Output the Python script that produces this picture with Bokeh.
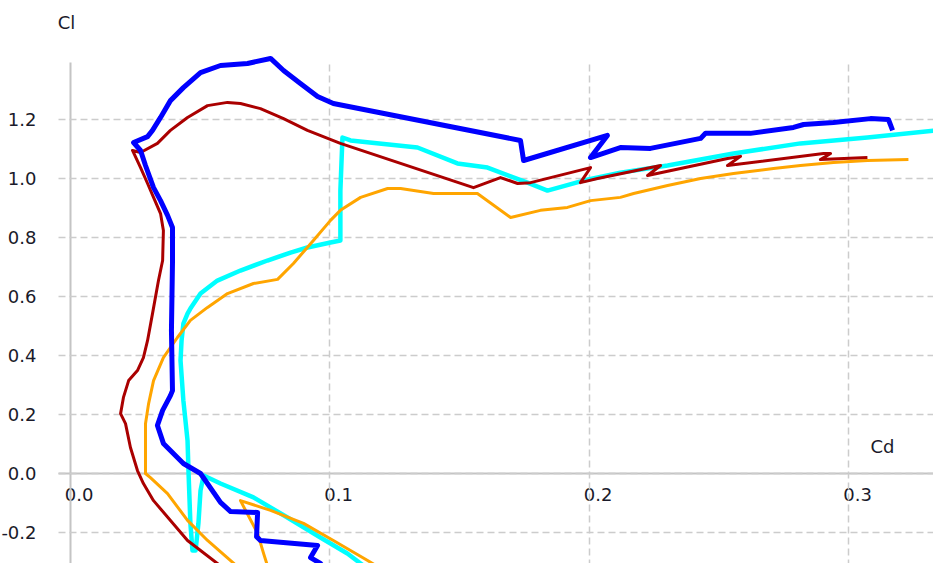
from bokeh.plotting import figure
from bokeh.models import Range1d, LinearAxis, Grid, FixedTicker, PrintfTickFormatter, Label
from bokeh.embed import file_html
from bokeh.resources import INLINE

# ---- data (Cd, Cl) ----
blue_cd = [0.1002, 0.0963, 0.0925, 0.0952, 0.0732, 0.0717, 0.0721, 0.0617, 0.0578, 0.0501,
           0.0435, 0.0358, 0.0335, 0.0355, 0.0385, 0.0393, 0.0389, 0.0393, 0.0393, 0.0374,
           0.0347, 0.0320, 0.0289, 0.0270, 0.0243, 0.0297, 0.0316, 0.0347, 0.0385, 0.0435,
           0.0501, 0.0578, 0.0682, 0.0771, 0.0821, 0.0886, 0.0952, 0.1013, 0.1734, 0.1746,
           0.2069, 0.2004, 0.2119, 0.2235, 0.2428, 0.2447, 0.2493, 0.2620, 0.2786, 0.2825,
           0.2940, 0.3083, 0.3152, 0.3168]
blue_cl = [-0.346, -0.305, -0.285, -0.244, -0.227, -0.214, -0.132, -0.129, -0.098, 0.000,
           0.034, 0.102, 0.163, 0.214, 0.264, 0.281, 0.485, 0.715, 0.834, 0.875,
           0.925, 0.969, 1.044, 1.095, 1.122, 1.142, 1.163, 1.207, 1.264, 1.308,
           1.359, 1.383, 1.390, 1.407, 1.366, 1.322, 1.278, 1.254, 1.129, 1.061,
           1.146, 1.071, 1.105, 1.102, 1.136, 1.153, 1.153, 1.153, 1.173, 1.183,
           1.190, 1.203, 1.200, 1.163]

red_cd = [0.0628, 0.0566, 0.0451, 0.0320, 0.0281, 0.0258, 0.0231, 0.0212, 0.0193, 0.0204,
          0.0224, 0.0258, 0.0281, 0.0297, 0.0316, 0.0339, 0.0355, 0.0358, 0.0347, 0.0320,
          0.0297, 0.0270, 0.0239, 0.0270, 0.0335, 0.0385, 0.0451, 0.0528, 0.0605, 0.0655,
          0.0732, 0.0821, 0.0913, 0.1040, 0.1553, 0.1657, 0.1723, 0.1773, 0.2004, 0.1965,
          0.2031, 0.2274, 0.2224, 0.2532, 0.2582, 0.2532, 0.2902, 0.2929, 0.2890, 0.3071]
red_cl = [-0.346, -0.305, -0.227, -0.092, -0.034, 0.010, 0.088, 0.169, 0.203, 0.258,
          0.315, 0.349, 0.393, 0.451, 0.542, 0.654, 0.722, 0.824, 0.881, 0.936,
          0.983, 1.037, 1.095, 1.088, 1.119, 1.163, 1.207, 1.247, 1.258, 1.254,
          1.237, 1.203, 1.163, 1.119, 0.969, 1.003, 0.983, 0.986, 1.037, 0.986,
          1.000, 1.044, 1.010, 1.068, 1.075, 1.044, 1.085, 1.085, 1.064, 1.071]

cyan_cd = [0.1179, 0.1118, 0.1067, 0.0963, 0.0836, 0.0705, 0.0578, 0.0513, 0.0501, 0.0493,
           0.0482, 0.0470, 0.0462, 0.0455, 0.0451, 0.0435, 0.0424, 0.0428, 0.0435, 0.0451,
           0.0462, 0.0501, 0.0566, 0.0655, 0.0759, 0.0848, 0.0913, 0.1002, 0.1040, 0.1040,
           0.1048, 0.1079, 0.1337, 0.1491, 0.1607, 0.1761, 0.1838, 0.1977, 0.2119, 0.2301,
           0.2555, 0.2813, 0.3071, 0.3333]
cyan_cl = [-0.346, -0.305, -0.271, -0.217, -0.149, -0.081, -0.034, -0.007, -0.058, -0.169,
           -0.261, -0.261, -0.169, 0.000, 0.112, 0.247, 0.383, 0.451, 0.508, 0.542,
           0.559, 0.610, 0.654, 0.688, 0.722, 0.749, 0.766, 0.783, 0.790, 0.959,
           1.139, 1.129, 1.105, 1.051, 1.037, 0.986, 0.959, 0.993, 1.020, 1.044,
           1.085, 1.119, 1.139, 1.163]

orange_cd = [0.1241, 0.1145, 0.1013, 0.0898, 0.0771, 0.0655, 0.0721, 0.0744, 0.0771, 0.0682,
             0.0617, 0.0528, 0.0451, 0.0374, 0.0308, 0.0289, 0.0289, 0.0301, 0.0320, 0.0358,
             0.0412, 0.0462, 0.0528, 0.0605, 0.0705, 0.0798, 0.0859, 0.0936, 0.1002, 0.1040,
             0.1118, 0.1222, 0.1272, 0.1399, 0.1568, 0.1696, 0.1811, 0.1915, 0.2004, 0.2119,
             0.2170, 0.2301, 0.2428, 0.2555, 0.2709, 0.2813, 0.2940, 0.3071, 0.3229]
orange_cl = [-0.346, -0.295, -0.227, -0.169, -0.125, -0.092, -0.203, -0.271, -0.346, -0.346,
             -0.295, -0.227, -0.159, -0.068, -0.014, 0.000, 0.169, 0.237, 0.315, 0.393,
             0.461, 0.519, 0.563, 0.610, 0.644, 0.658, 0.712, 0.790, 0.858, 0.892,
             0.936, 0.966, 0.966, 0.949, 0.949, 0.868, 0.892, 0.902, 0.925, 0.936,
             0.949, 0.976, 1.000, 1.017, 1.034, 1.044, 1.054, 1.061, 1.064]

x_ticks = [0.0, 0.1, 0.2, 0.3]
y_ticks = [-0.2, 0.0, 0.2, 0.4, 0.6, 0.8, 1.0, 1.2]
x_label = "Cd"
y_label = "Cl"

FONT = "DejaVu Sans"
FS = "18px"
TXT = "#1a1a2a"
GRID_COLOR = "#cccccc"
AXIS_COLOR = "#c4c4c4"

X0, X1 = -0.026975, 0.332563
Y0, Y1 = -0.30508, 1.60339
GRID_LEFT = -0.004624   # where the horizontal grid starts
GRID_TOP = 1.393        # where the vertical grid / axis stop

p = figure(width=933, height=563, output_backend="svg", toolbar_location=None,
           x_range=Range1d(X0, X1), y_range=Range1d(Y0, Y1),
           x_axis_location=None, y_axis_location=None,
           min_border_left=0, min_border_right=0, min_border_top=0, min_border_bottom=0)
p.outline_line_color = None
p.background_fill_color = "white"
p.border_fill_color = "white"
p.xgrid.visible = False
p.ygrid.visible = False

# the tick labels of the Cd axis sit a few pixels to the right of their ticks
LABEL_SHIFT = 0.0033
p.extra_x_ranges = {"xlab": Range1d(X0 - LABEL_SHIFT, X1 - LABEL_SHIFT)}

xaxis_line = LinearAxis(fixed_location=0, bounds=(GRID_LEFT, 1.0), ticker=FixedTicker(ticks=[]),
                        axis_line_color=AXIS_COLOR, axis_line_width=2,
                        major_tick_line_color=None, minor_tick_line_color=None,
                        level="underlay")
xaxis = LinearAxis(fixed_location=0, x_range_name="xlab", ticker=FixedTicker(ticks=x_ticks),
                   formatter=PrintfTickFormatter(format="%.1f"),
                   axis_line_color=None,
                   major_tick_line_color=None, minor_tick_line_color=None,
                   major_label_standoff=8, major_label_text_font=FONT,
                   major_label_text_font_size=FS, major_label_text_color=TXT,
                   level="underlay")
yaxis = LinearAxis(fixed_location=0, ticker=FixedTicker(ticks=y_ticks), bounds=(-0.5, GRID_TOP),
                   formatter=PrintfTickFormatter(format="%.1f"),
                   axis_line_color=AXIS_COLOR, axis_line_width=2,
                   major_tick_line_color=None, minor_tick_line_color=None,
                   major_label_standoff=28, major_label_text_font=FONT,
                   major_label_text_font_size=FS, major_label_text_color=TXT,
                   level="underlay")
p.add_layout(xaxis_line, "below")
p.add_layout(xaxis, "below")
p.add_layout(yaxis, "left")

ygrid = Grid(dimension=1, ticker=FixedTicker(ticks=y_ticks), grid_line_color=GRID_COLOR,
             grid_line_width=1.5, grid_line_dash="7 4", cross_bounds=(GRID_LEFT, 1.0))
xgrid = Grid(dimension=0, ticker=FixedTicker(ticks=x_ticks[1:]), grid_line_color=GRID_COLOR,
             grid_line_width=1.5, grid_line_dash="7 4", cross_bounds=(-0.5, GRID_TOP))
p.add_layout(ygrid)
p.add_layout(xgrid)

p.line(cyan_cd, cyan_cl, line_color="#00ffff", line_width=4.5, line_join="round")
p.line(orange_cd, orange_cl, line_color="#ffa500", line_width=3, line_join="round")
p.line(red_cd, red_cl, line_color="#aa0000", line_width=3, line_join="round")
p.line(blue_cd, blue_cl, line_color="#0000ff", line_width=5, line_join="round")

p.add_layout(Label(x=-0.00154, y=1.5288, text=y_label, text_align="center", text_baseline="middle",
                   text_font=FONT, text_font_size=FS, text_color=TXT))
p.add_layout(Label(x=0.3129, y=0.0915, text=x_label, text_align="center", text_baseline="middle",
                   text_font=FONT, text_font_size=FS, text_color=TXT))

open("out.html", "w").write(file_html(p, INLINE))
